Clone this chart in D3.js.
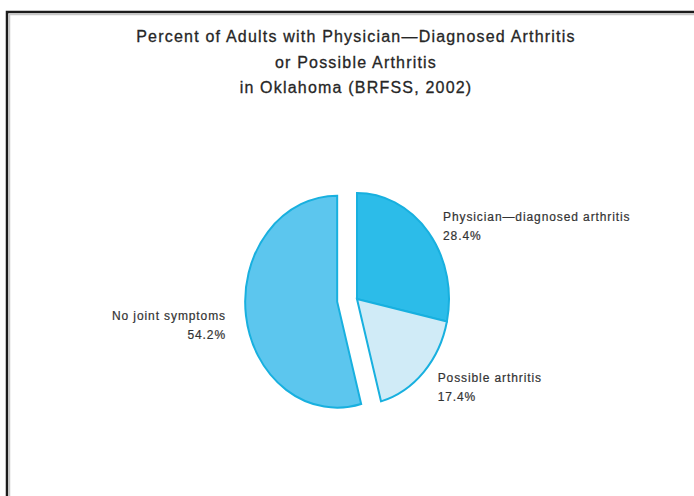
<!DOCTYPE html>
<html lang="en">
<head>
<meta charset="utf-8">
<title>Arthritis in Oklahoma</title>
<script src="https://cdnjs.cloudflare.com/ajax/libs/d3/7.8.5/d3.min.js"></script>
<style>
  body { margin: 0; background: #fff; }
  .title { font-family: "Liberation Sans", Arial, sans-serif; font-size: 16px; fill: #262626; stroke: #262626; stroke-width: 0.3px; letter-spacing: 1.2px; }
  .lbl { font-family: "Liberation Sans", Arial, sans-serif; font-size: 12px; fill: #333; stroke: #333; stroke-width: 0.2px; letter-spacing: 0.9px; }
  .slice { stroke: #18b0df; stroke-width: 2px; vector-effect: non-scaling-stroke; }
</style>
</head>
<body>
<script>
// chart data
var titleLines = ["Percent of Adults with Physician\u2014Diagnosed Arthritis",
                  "or Possible Arthritis",
                  "in Oklahoma (BRFSS, 2002)"];
var categories = ["Physician\u2014diagnosed arthritis", "Possible arthritis", "No joint symptoms"];
var values = [28.4, 17.4, 54.2];
var colors = ["#2cbce9", "#d0ebf7", "#5cc6ee"];
var exploded = [false, false, true];

var width = 694, height = 496;
var cx = 357, cy = 299;      // pie centre
var ry = 106, rx = 92;       // picture is slightly squeezed sideways
var explode = 20;

var svg = d3.select("body").append("svg")
    .attr("width", width)
    .attr("height", height);

// frame: dark line on top and left with a soft grey edge
svg.append("path")
    .attr("d", "M7," + height + "V12H" + width)
    .attr("fill", "none")
    .attr("stroke", "#1c1c1c")
    .attr("stroke-width", 2.5);
svg.append("path")
    .attr("d", "M9.5," + height + "V14.5H" + width)
    .attr("fill", "none")
    .attr("stroke", "#c8c8c8")
    .attr("stroke-width", 1.5);

// title
svg.append("g").selectAll("text")
    .data(titleLines)
  .enter().append("text")
    .attr("class", "title")
    .attr("x", 356)
    .attr("y", function(d, i) { return 42 + i * 25.5; })
    .attr("text-anchor", "middle")
    .text(function(d) { return d; });

var pie = d3.pie().sort(null).value(function(d) { return d; });
var arcs = pie(values);

var arc = d3.arc().innerRadius(0).outerRadius(ry);

function offset(d, i) {
    if (!exploded[i]) return [0, 0];
    var a = (d.startAngle + d.endAngle) / 2;
    return [Math.sin(a) * explode, -Math.cos(a) * explode];
}

var slices = svg.append("g").selectAll("g")
    .data(arcs)
  .enter().append("g")
    .attr("transform", function(d, i) {
        var o = offset(d, i);
        return "translate(" + (cx + o[0]) + "," + (cy + o[1]) + ") scale(" + (rx / ry) + ",1)";
    });

slices.append("path")
    .attr("class", "slice")
    .attr("d", arc)
    .attr("fill", function(d, i) { return colors[i]; });

// labels, placed out from each slice's middle angle
var labelShift = [[14, -11], [14, 10], [-20, 4]];
var labels = svg.append("g").selectAll("text")
    .data(arcs)
  .enter().append("text")
    .attr("class", "lbl")
    .attr("text-anchor", function(d, i) { return i === 2 ? "end" : "start"; })
    .attr("transform", function(d, i) {
        var a = (d.startAngle + d.endAngle) / 2;
        var o = offset(d, i);
        var x = cx + o[0] + Math.sin(a) * rx + labelShift[i][0];
        var y = cy + o[1] - Math.cos(a) * ry + labelShift[i][1];
        if (i === 0) { x = cx + rx - 6; }
        return "translate(" + x + "," + y + ")";
    });

labels.append("tspan")
    .attr("x", 0)
    .attr("dy", 0)
    .text(function(d, i) { return categories[i]; });
labels.append("tspan")
    .attr("x", 0)
    .attr("dy", 19)
    .text(function(d) { return d.data.toFixed(1) + "%"; });
</script>
</body>
</html>
